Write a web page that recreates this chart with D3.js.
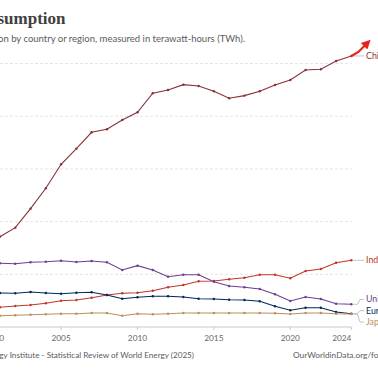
<!DOCTYPE html>
<html lang="en">
<head>
    <meta charset="utf-8">
    <title>Coal consumption</title>
    <script src="https://cdn.jsdelivr.net/npm/d3@7"></script>
    <style>
        body {
            margin: 0;
            background: #fff;
        }
        svg {
            display: block;
            font-family: Lato, "Open Sans", sans-serif;
        }
    </style>
</head>
<body>
<svg></svg>
<script>
    // values, TWh, years 2001..2024
    const years = [2001, 2002, 2003, 2004, 2005, 2006, 2007, 2008, 2009, 2010, 2011, 2012,
        2013, 2014, 2015, 2016, 2017, 2018, 2019, 2020, 2021, 2022, 2023, 2024];
    const china = [8570, 9424, 11227, 13163, 15440, 16920, 18477, 18762, 19644, 20375, 22178, 22491,
        22994, 22871, 22368, 21704, 21950, 22368, 22966, 23440, 24389, 24456, 25243, 25718];
    const india = [1870, 1993, 2088, 2249, 2496, 2562, 2781, 3037, 3198, 3255, 3445, 3768,
        3986, 4337, 4365, 4527, 4679, 4963, 4963, 4622, 5314, 5504, 6102, 6330];
    const unitedStates = [6045, 6007, 6140, 6197, 6292, 6169, 6263, 6140, 5409, 5817, 5409, 4773,
        4963, 4963, 4299, 3891, 3768, 3606, 3103, 2467, 2847, 2657, 2211, 2154];
    const europeanUnion = [3227, 3198, 3322, 3227, 3160, 3255, 3293, 3037, 2686, 2819, 2913, 2913,
        2847, 2686, 2657, 2591, 2562, 2439, 1964, 1585, 1832, 1832, 1424, 1260];
    const japan = [1072, 1110, 1167, 1205, 1262, 1262, 1329, 1329, 1072, 1262, 1205, 1262,
        1329, 1329, 1329, 1329, 1329, 1329, 1300, 1234, 1329, 1329, 1262, 1228];

    const seriesNames = ["China", "India", "United States", "European Union (27)", "Japan"];
    const seriesColors = ["#883039", "#c0362c", "#6d3e91", "#00295b", "#bc8e5a"];
    const xTicks = [2000, 2005, 2010, 2015, 2020, 2024];
    const yTicks = [5000, 10000, 15000, 20000, 25000];

    const series = [china, india, unitedStates, europeanUnion, japan].map((vals, i) => ({
        name: seriesNames[i],
        color: seriesColors[i],
        values: vals.map((v, j) => ({year: years[j], value: v}))
    }));

    const width = 378, height = 370;
    const svg = d3.select("svg").attr("width", width).attr("height", height);

    // the picture is a crop, so the plot starts left of the frame
    const xScale = d3.scaleLinear().domain([2000, 2024]).range([-15.3, 351.4]);
    const yScale = d3.scaleLinear().domain([0, 25000]).range([327, 63.5]);

    // title block
    svg.append("text")
        .attr("x", 65.5).attr("y", 24)
        .attr("text-anchor", "end")
        .attr("font-family", "'Liberation Serif', serif")
        .attr("font-weight", "bold")
        .attr("font-size", "17px")
        .attr("fill", "#404040")
        .text("Coal consumption");

    svg.append("text")
        .attr("x", 245).attr("y", 41.5)
        .attr("text-anchor", "end")
        .attr("font-size", "9.5px")
        .attr("fill", "#5b5b5b")
        .text("Coal consumption by country or region, measured in terawatt-hours (TWh).");

    // grid
    svg.append("g")
        .selectAll("line")
        .data(yTicks)
        .join("line")
        .attr("x1", 0)
        .attr("x2", xScale(2024))
        .attr("y1", d => yScale(d))
        .attr("y2", d => yScale(d))
        .attr("stroke", "#dddddd")
        .attr("stroke-width", 0.8)
        .attr("stroke-dasharray", "3,2");

    // x axis
    const xAxis = svg.append("g");
    xAxis.append("line")
        .attr("x1", 0).attr("x2", xScale(2024))
        .attr("y1", yScale(0)).attr("y2", yScale(0))
        .attr("stroke", "#bbbbbb")
        .attr("stroke-width", 0.8);
    xAxis.selectAll("line.tick")
        .data(xTicks)
        .join("line")
        .attr("class", "tick")
        .attr("x1", d => xScale(d)).attr("x2", d => xScale(d))
        .attr("y1", yScale(0)).attr("y2", yScale(0) + 3)
        .attr("stroke", "#bbbbbb")
        .attr("stroke-width", 0.8);
    xAxis.selectAll("text")
        .data(xTicks)
        .join("text")
        .attr("x", d => xScale(d))
        .attr("y", 341)
        .attr("text-anchor", (d, i) => i === 0 ? "start" : (i === xTicks.length - 1 ? "end" : "middle"))
        .attr("font-size", "8.3px")
        .attr("fill", "#666666")
        .text(d => d);

    // lines
    const line = d3.line()
        .x(d => xScale(d.year))
        .y(d => yScale(d.value));

    const lines = svg.append("g");
    lines.selectAll("path")
        .data(series)
        .join("path")
        .attr("fill", "none")
        .attr("stroke", d => d.color)
        .attr("stroke-width", 1.1)
        .attr("d", d => line(d.values));

    lines.selectAll("g.dots")
        .data(series)
        .join("g")
        .attr("class", "dots")
        .attr("fill", d => d.color)
        .selectAll("circle")
        .data(d => d.values)
        .join("circle")
        .attr("cx", d => xScale(d.year))
        .attr("cy", d => yScale(d.value))
        .attr("r", 1.2);

    // end labels, pushed apart so they don't overlap
    const labelGap = 11.3;
    const labels = series.map(s => {
        const last = s.values[s.values.length - 1];
        return {name: s.name, color: s.color, endY: yScale(last.value), y: yScale(last.value)};
    }).sort((a, b) => a.endY - b.endY);
    for (let k = 0; k < 100; k++) {
        for (let i = 1; i < labels.length; i++) {
            const overlap = labelGap - (labels[i].y - labels[i - 1].y);
            if (overlap > 0) {
                labels[i - 1].y -= overlap / 2;
                labels[i].y += overlap / 2;
            }
        }
    }

    const lx0 = xScale(2024) + 2, lx1 = 364;
    svg.append("g")
        .selectAll("path")
        .data(labels)
        .join("path")
        .attr("fill", "none")
        .attr("stroke", "#aaaaaa")
        .attr("stroke-width", 0.7)
        .attr("d", d => `M${lx0},${d.endY}H${lx0 + 4}L${lx1 - 4},${d.y}H${lx1}`);

    svg.append("g")
        .selectAll("text")
        .data(labels)
        .join("text")
        .attr("x", lx1 + 2)
        .attr("y", d => d.y + 3)
        .attr("font-size", "8.8px")
        .attr("fill", d => d.color)
        .text(d => d.name);

    // red arrow drawn over the end of the China line
    const defs = svg.append("defs");
    defs.append("marker")
        .attr("id", "arrowhead")
        .attr("viewBox", "0 0 10 10")
        .attr("refX", 2)
        .attr("refY", 5)
        .attr("markerWidth", 4.8)
        .attr("markerHeight", 4.2)
        .attr("markerUnits", "strokeWidth")
        .attr("orient", "auto")
        .append("path")
        .attr("d", "M0,0L10,5L0,10Z")
        .attr("fill", "#e8231f");

    const chinaEnd = series[0].values[series[0].values.length - 1];
    const ax = xScale(chinaEnd.year), ay = yScale(chinaEnd.value);
    svg.append("path")
        .attr("d", `M${ax},${ay}L${ax + 7},${ay - 4}L${ax + 14},${ay - 11}`)
        .attr("fill", "none")
        .attr("stroke", "#e8231f")
        .attr("stroke-width", 2.2)
        .attr("stroke-linecap", "round")
        .attr("marker-end", "url(#arrowhead)");

    // footer
    svg.append("text")
        .attr("x", 194).attr("y", 358)
        .attr("text-anchor", "end")
        .attr("font-size", "8.15px")
        .attr("fill", "#5b5b5b")
        .text("Data source: Energy Institute - Statistical Review of World Energy (2025)");

    svg.append("text")
        .attr("x", 293).attr("y", 358)
        .attr("font-size", "8.3px")
        .attr("fill", "#5b5b5b")
        .text("OurWorldinData.org/fossil-fuels | CC BY");
</script>
</body>
</html>
